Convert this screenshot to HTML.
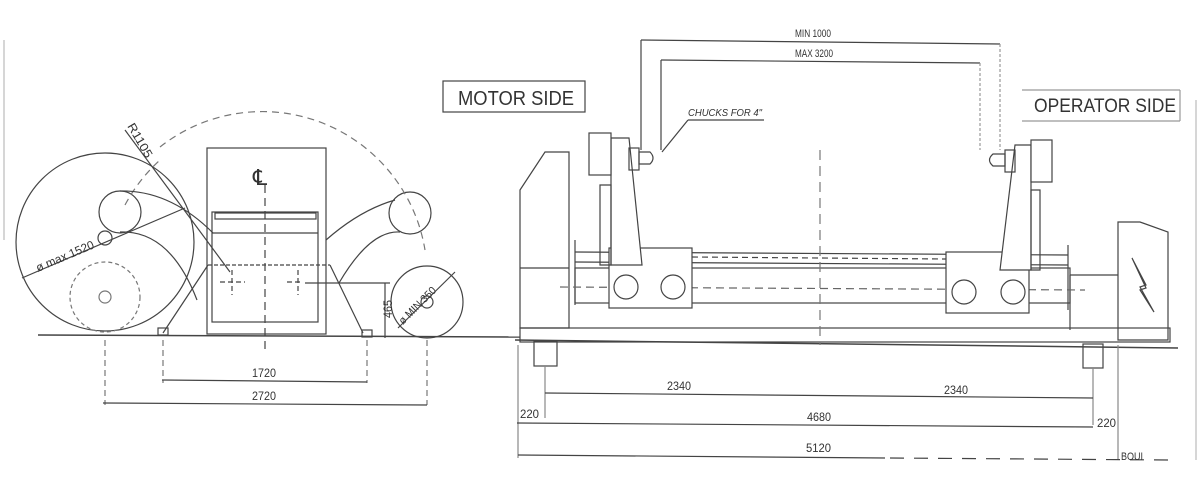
<!DOCTYPE html>
<html><head><meta charset="utf-8"><style>
html,body{margin:0;padding:0;background:#fff;}
svg{display:block;}
text{font-family:"Liberation Sans",sans-serif;fill:#333;}
</style></head><body>
<svg width="1200" height="499" viewBox="0 0 1200 499" xmlns="http://www.w3.org/2000/svg">
<rect width="1200" height="499" fill="#fff"/>
<g stroke="#444" stroke-width="1.2" fill="none">
<line x1="4" y1="40" x2="4" y2="240" stroke="#bbb"/>
<line x1="1196" y1="100" x2="1196" y2="460" stroke="#bbb"/>

<!-- LEFT DRAWING -->
<line x1="38" y1="335" x2="520" y2="337" stroke-width="1.5"/>
<circle cx="105" cy="242" r="89"/>
<circle cx="105" cy="297" r="35" stroke-dasharray="4,3" stroke="#777"/>
<circle cx="105" cy="297" r="6" stroke="#777"/>
<circle cx="105" cy="238" r="7"/>
<circle cx="120" cy="212" r="21"/>
<circle cx="410" cy="213" r="21"/>
<circle cx="427" cy="302" r="36"/>
<circle cx="427" cy="302" r="6"/>
<path d="M160 147 A165 165 0 0 1 425 250" stroke-dasharray="7,5" stroke="#777"/>
<path d="M125 205 A165 165 0 0 1 160 160" stroke-dasharray="7,5" stroke="#777"/>
<path d="M120 191 Q170 190 213 233"/>
<path d="M120 232 Q170 230 197 300"/>
<path d="M326 240 Q360 210 395 200"/>
<path d="M339 283 Q370 230 400 232"/>
<rect x="207" y="148" width="119" height="186"/>
<rect x="212" y="212" width="106" height="110"/>
<rect x="215" y="213" width="101" height="6"/>
<line x1="212" y1="233" x2="318" y2="233"/>
<line x1="208" y1="265" x2="330" y2="265" stroke-dasharray="4,2"/>
<line x1="208" y1="265" x2="163" y2="333"/>
<line x1="330" y1="265" x2="363" y2="333"/>
<line x1="265" y1="185" x2="265" y2="350" stroke-dasharray="8,5"/>
<text x="253" y="185" font-size="22" stroke="none">℄</text>
<line x1="220" y1="282" x2="245" y2="282" stroke-dasharray="5,3"/>
<line x1="232" y1="270" x2="232" y2="295" stroke-dasharray="5,3"/>
<line x1="287" y1="282" x2="300" y2="282" stroke-dasharray="5,3"/>
<line x1="298" y1="270" x2="298" y2="295" stroke-dasharray="5,3"/>
<line x1="305" y1="283" x2="390" y2="283"/>
<line x1="385" y1="283" x2="385" y2="338"/>
<rect x="158" y="328" width="10" height="7"/>
<rect x="362" y="330" width="10" height="7"/>
<line x1="125" y1="130" x2="230" y2="272"/>
<line x1="22" y1="278" x2="185" y2="208"/>
<line x1="398" y1="328" x2="455" y2="272"/>
<line x1="105" y1="340" x2="105" y2="405" stroke-dasharray="6,4" stroke="#777"/>
<line x1="163" y1="340" x2="163" y2="383" stroke-dasharray="6,4" stroke="#777"/>
<line x1="367" y1="340" x2="367" y2="383" stroke-dasharray="6,4" stroke="#777"/>
<line x1="427" y1="340" x2="427" y2="405" stroke-dasharray="6,4" stroke="#777"/>
<line x1="162" y1="380" x2="367" y2="382"/>
<line x1="103" y1="403" x2="427" y2="405"/>

<!-- RIGHT DRAWING -->
<line x1="515" y1="340" x2="1178" y2="348" stroke-width="1.5"/>
<rect x="520" y="328" width="650" height="14"/>
<path d="M520 190 L545 152 L569 152 L569 328 L520 328 Z"/>
<line x1="520" y1="268" x2="569" y2="268"/>
<rect x="534" y="341" width="23" height="25"/>
<rect x="1083" y="344" width="20" height="24"/>
<path d="M1118 222 L1140 222 L1168 232 L1168 340 L1118 340 Z"/>
<line x1="1070" y1="275" x2="1118" y2="275"/>
<line x1="1070" y1="275" x2="1070" y2="330"/>
<path d="M1132 258 L1146 285 L1140 287 L1154 312 L1140 290 L1146 288 Z"/>
<line x1="575" y1="252" x2="1068" y2="255"/>
<line x1="575" y1="262" x2="1068" y2="265"/>
<line x1="692" y1="257" x2="946" y2="259" stroke-dasharray="6,4"/>
<rect x="575" y="268" width="495" height="35"/>
<line x1="575" y1="240" x2="575" y2="305"/>
<line x1="1068" y1="245" x2="1068" y2="310"/>
<line x1="560" y1="287" x2="1085" y2="290" stroke-dasharray="8,5" stroke="#666"/>
<line x1="820" y1="150" x2="820" y2="345" stroke-dasharray="10,6" stroke="#777"/>
<rect x="609" y="248" width="83" height="60" fill="#fff"/>
<path d="M611 138 L629 138 L642 265 L611 265 Z" fill="#fff"/>
<path d="M600 185 L611 185 L611 265 L600 265 Z"/>
<rect x="589" y="133" width="22" height="42" fill="#fff"/>
<rect x="629" y="148" width="10" height="22"/>
<path d="M639 152 L650 152 Q656 158 650 164 L639 164 Z"/>
<circle cx="626" cy="287" r="12"/><circle cx="673" cy="287" r="12"/>
<rect x="946" y="252" width="83" height="61" fill="#fff"/>
<path d="M1015 145 L1031 145 L1031 270 L1000 270 Z" fill="#fff"/>
<path d="M1031 190 L1040 190 L1040 270 L1031 270 Z"/>
<rect x="1031" y="140" width="21" height="42" fill="#fff"/>
<rect x="1005" y="150" width="10" height="22"/>
<path d="M1005 154 L993 154 Q986 160 993 166 L1005 166 Z"/>
<circle cx="964" cy="292" r="12"/><circle cx="1013" cy="292" r="12"/>
<line x1="641" y1="40" x2="1000" y2="44"/>
<line x1="661" y1="60" x2="980" y2="63"/>
<line x1="641" y1="40" x2="641" y2="150"/>
<line x1="661" y1="60" x2="661" y2="150"/>
<line x1="1000" y1="44" x2="1000" y2="150" stroke="#999" stroke-dasharray="3,2"/>
<line x1="980" y1="63" x2="980" y2="150" stroke="#999" stroke-dasharray="3,2"/>
<line x1="688" y1="120" x2="764" y2="120"/>
<line x1="688" y1="120" x2="662" y2="152"/>
<rect x="443" y="81" width="142" height="31"/>
<line x1="1022" y1="90" x2="1180" y2="90" stroke="#999"/>
<line x1="1022" y1="121" x2="1180" y2="121" stroke="#999"/>
<line x1="1180" y1="90" x2="1180" y2="121" stroke="#999"/>
<line x1="545" y1="366" x2="545" y2="418" stroke="#888"/>
<line x1="1093" y1="368" x2="1093" y2="425" stroke="#888"/>
<line x1="518" y1="345" x2="518" y2="458" stroke="#888"/>
<line x1="1118" y1="345" x2="1118" y2="460" stroke="#888"/>
<line x1="545" y1="393" x2="1093" y2="398"/>
<line x1="517" y1="423" x2="1093" y2="427"/>
<line x1="518" y1="455" x2="885" y2="458"/>
<line x1="890" y1="458" x2="1170" y2="460" stroke-dasharray="14,10"/>
</g>
<g stroke="none">
<text x="127" y="126" font-size="12" transform="rotate(60 127 126)" textLength="38" lengthAdjust="spacingAndGlyphs">R1105</text>
<text x="38" y="272" font-size="12" transform="rotate(-23 38 272)" textLength="62" lengthAdjust="spacingAndGlyphs">ø max 1520</text>
<text x="403" y="325" font-size="11" transform="rotate(-45 403 325)" textLength="48" lengthAdjust="spacingAndGlyphs">ø MIN 350</text>
<text x="392" y="318" font-size="12" transform="rotate(-90 392 318)" textLength="18" lengthAdjust="spacingAndGlyphs">465</text>
<text x="252" y="377" font-size="12" textLength="24" lengthAdjust="spacingAndGlyphs">1720</text>
<text x="252" y="400" font-size="12" textLength="24" lengthAdjust="spacingAndGlyphs">2720</text>
<text x="458" y="105" font-size="20" textLength="116" lengthAdjust="spacingAndGlyphs">MOTOR SIDE</text>
<text x="1034" y="112" font-size="19" fill="#666" textLength="142" lengthAdjust="spacingAndGlyphs">OPERATOR SIDE</text>
<text x="795" y="37" font-size="11" textLength="36" lengthAdjust="spacingAndGlyphs">MIN 1000</text>
<text x="795" y="57" font-size="11" textLength="38" lengthAdjust="spacingAndGlyphs">MAX 3200</text>
<text x="688" y="116" font-size="10" font-style="italic" textLength="74" lengthAdjust="spacingAndGlyphs">CHUCKS FOR 4"</text>
<text x="667" y="390" font-size="12" textLength="24" lengthAdjust="spacingAndGlyphs">2340</text>
<text x="944" y="394" font-size="12" textLength="24" lengthAdjust="spacingAndGlyphs">2340</text>
<text x="520" y="418" font-size="12" textLength="19" lengthAdjust="spacingAndGlyphs">220</text>
<text x="807" y="421" font-size="12" fill="#666" textLength="24" lengthAdjust="spacingAndGlyphs">4680</text>
<text x="1097" y="427" font-size="12" textLength="19" lengthAdjust="spacingAndGlyphs">220</text>
<text x="806" y="452" font-size="12" textLength="25" lengthAdjust="spacingAndGlyphs">5120</text>
<text x="1121" y="460" font-size="11" textLength="22" lengthAdjust="spacingAndGlyphs">BOUI</text>
</g>
</svg>
</body></html>
